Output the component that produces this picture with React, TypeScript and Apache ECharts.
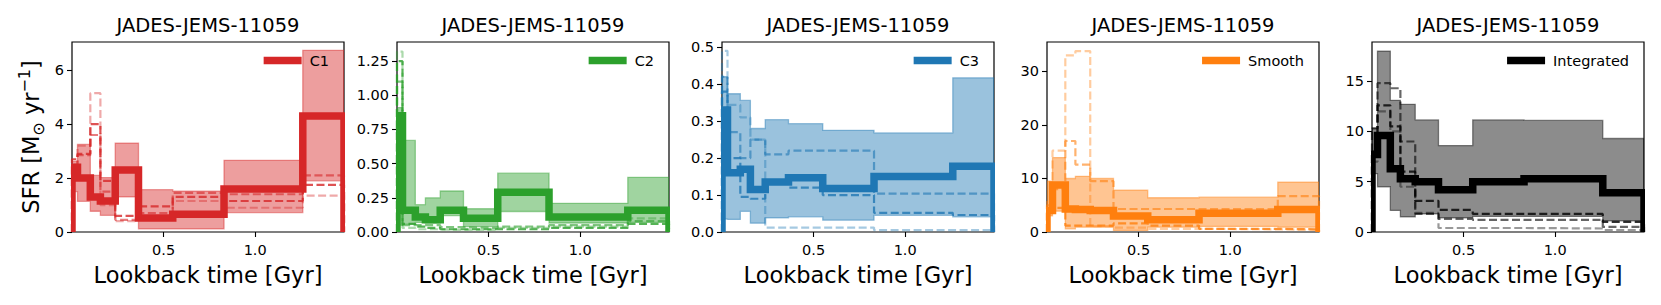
import React, { useEffect, useRef } from "react";
import * as echarts from "echarts";

// ---------- data ----------
const EDGES = [0, 0.03, 0.1, 0.155, 0.236, 0.363, 0.55, 0.83, 1.26, 1.485];
const X_MAX = 1.485;
const X_TICKS = [0.5, 1.0];
const TITLE = "JADES-JEMS-11059";
const X_NAME = "Lookback time [Gyr]";

const NAMES = ["C1", "C2", "C3", "Smooth", "Integrated"];
const COLORS = ["#d62728", "#2ca02c", "#1f77b4", "#ff7f0e", "#000000"];
const Y_MAX = [7.05, 1.39, 0.514, 35.5, 18.9];
const Y_TICKS = [
  [0, 2, 4, 6],
  [0, 0.25, 0.5, 0.75, 1.0, 1.25],
  [0, 0.1, 0.2, 0.3, 0.4, 0.5],
  [0, 10, 20, 30],
  [0, 5, 10, 15],
];
const Y_DECIMALS = [0, 2, 1, 0, 0];

// C1
const C1_MED = [2.4, 2.0, 1.3, 1.15, 2.3, 0.52, 0.66, 1.6, 4.3];
const C1_LO = [1.5, 1.14, 0.77, 0.62, 1.3, 0.12, 0.12, 0.72, 1.9];
const C1_HI = [2.62, 3.25, 2.1, 2.02, 3.3, 1.57, 1.52, 2.66, 6.74];
const C1_DA = [2.7, 2.9, 4.0, 1.9, 0.6, 0.95, 1.3, 1.15, 1.75];
const C1_DB = [2.3, 2.85, 3.6, 1.5, 0.45, 0.7, 1.45, 1.4, 2.1];
const C1_DC = [2.5, 3.2, 5.15, 1.0, 0.4, 0.5, 1.15, 0.9, 1.35];

// C2
const C2_MED = [0.85, 0.16, 0.11, 0.09, 0.16, 0.1, 0.29, 0.11, 0.16];
const C2_LO = [0.05, 0.06, 0.07, 0.066, 0.12, 0.04, 0.15, 0.066, 0.07];
const C2_HI = [0.91, 0.67, 0.2, 0.25, 0.3, 0.17, 0.43, 0.21, 0.4];
const C2_DA = [1.25, 0.06, 0.04, 0.03, 0.02, 0.02, 0.02, 0.03, 0.06];
const C2_DB = [1.1, 0.05, 0.05, 0.05, 0.035, 0.03, 0.04, 0.05, 0.08];
const C2_DC = [1.32, 0.03, 0.02, 0.02, 0.015, 0.015, 0.03, 0.04, 0.1];

// C3
const C3_MED = [0.33, 0.16, 0.17, 0.115, 0.135, 0.147, 0.118, 0.15, 0.178];
const C3_LO = [0.035, 0.034, 0.056, 0.024, 0.038, 0.041, 0.032, 0.045, 0.041];
const C3_HI = [0.42, 0.374, 0.356, 0.28, 0.304, 0.293, 0.275, 0.268, 0.417];
const C3_DA = [0.38, 0.2, 0.095, 0.09, 0.13, 0.12, 0.1, 0.052, 0.046];
const C3_DB = [0.42, 0.27, 0.2, 0.25, 0.21, 0.22, 0.22, 0.104, 0.104];
const C3_DC = [0.49, 0.344, 0.31, 0.25, 0.012, 0.012, 0.012, 0.005, 0.005];

// Smooth
const SM_MED = [4.0, 8.8, 4.3, 4.2, 4.0, 3.0, 2.3, 3.5, 4.2];
const SM_LO = [3.0, 3.9, 0.6, 0.9, 0.9, 0.3, 0.9, 1.05, 0.9];
const SM_HI = [9.5, 13.9, 10.0, 10.4, 10.0, 7.8, 6.4, 6.5, 9.3];
const SM_DA = [3.5, 4.5, 1.2, 1.2, 1.2, 1.6, 1.2, 0.6, 0.5];
const SM_DB = [5.0, 8.0, 17.0, 12.6, 9.5, 4.3, 4.3, 4.3, 6.7];
const SM_DC = [6.0, 15.2, 33.0, 33.8, 1.1, 0.8, 0.6, 0.5, 0.4];

// Integrated
const IN_MED = [7.7, 9.6, 6.3, 5.3, 5.0, 4.2, 5.0, 5.3, 3.9];
const IN_LO = [5.8, 4.5, 2.15, 1.5, 1.8, 1.4, 1.55, 1.55, 1.1];
const IN_HI = [10.3, 18.0, 13.1, 12.7, 11.15, 8.6, 11.15, 11.1, 9.3];
const IN_DA = [8.0, 12.6, 10.5, 6.0, 3.1, 2.2, 1.8, 1.8, 1.0];
const IN_DB = [10.3, 14.8, 14.3, 9.0, 1.8, 1.3, 1.2, 1.2, 0.5];
const IN_DC = [7.0, 12.0, 10.0, 4.5, 1.9, 0.4, 0.4, 0.35, 0.2];

const PANELS = [
  { med: C1_MED, lo: C1_LO, hi: C1_HI, dashed: [C1_DA, C1_DB, C1_DC] },
  { med: C2_MED, lo: C2_LO, hi: C2_HI, dashed: [C2_DA, C2_DB, C2_DC] },
  { med: C3_MED, lo: C3_LO, hi: C3_HI, dashed: [C3_DA, C3_DB, C3_DC] },
  { med: SM_MED, lo: SM_LO, hi: SM_HI, dashed: [SM_DA, SM_DB, SM_DC] },
  { med: IN_MED, lo: IN_LO, hi: IN_HI, dashed: [IN_DA, IN_DB, IN_DC] },
];
const DASH_ALPHA = [0.8, 0.6, 0.4];

// ---------- layout ----------
const W = 1661;
const H = 305;
const GRID_LEFT0 = 72;
const GRID_STEP = 325;
const GRID_W = 272;
const GRID_TOP = 42;
const GRID_H = 190;
const FONT = "DejaVu Sans";

function rgba(hex: string, a: number) {
  const r = parseInt(hex.slice(1, 3), 16);
  const g = parseInt(hex.slice(3, 5), 16);
  const b = parseInt(hex.slice(5, 7), 16);
  return `rgba(${r},${g},${b},${a})`;
}

function stairs(vals: number[]) {
  const pts: number[][] = [[EDGES[0], 0]];
  vals.forEach((v, i) => {
    pts.push([EDGES[i], v]);
    pts.push([EDGES[i + 1], v]);
  });
  pts.push([EDGES[vals.length], 0]);
  return pts;
}

export default function App() {
  const ref = useRef<HTMLDivElement>(null);
  useEffect(() => {
    document.body.style.margin = "0";
    const chart = echarts.init(ref.current!, null, { renderer: "svg" });
    const grids: any[] = [];
    const xAxes: any[] = [];
    const yAxes: any[] = [];
    const series: any[] = [];
    const legends: any[] = [];
    const graphics: any[] = [];

    PANELS.forEach((p, k) => {
      const left = GRID_LEFT0 + k * GRID_STEP;
      const color = COLORS[k];
      grids.push({
        left,
        top: GRID_TOP,
        width: GRID_W,
        height: GRID_H,
        show: true,
        borderColor: "#000",
        borderWidth: 1.2,
        backgroundColor: "transparent",
      });
      xAxes.push({
        type: "value",
        gridIndex: k,
        min: 0,
        max: X_MAX,
        name: X_NAME,
        nameLocation: "middle",
        nameGap: 31,
        nameTextStyle: { fontFamily: FONT, fontSize: 22.5, color: "#000" },
        axisLine: { show: false },
        splitLine: { show: false },
        axisTick: { show: true, length: 5, lineStyle: { color: "#000", width: 1.1 }, customValues: X_TICKS },
        axisLabel: {
          customValues: X_TICKS,
          formatter: (v: number) => v.toFixed(1),
          fontFamily: FONT,
          fontSize: 14.5,
          color: "#000",
          margin: 10,
        },
      });
      const yt = Y_TICKS[k];
      const y: any = {
        type: "value",
        gridIndex: k,
        min: 0,
        max: Y_MAX[k],
        axisLine: { show: false },
        splitLine: { show: false },
        axisTick: { show: true, length: 5, lineStyle: { color: "#000", width: 1.1 }, customValues: yt },
        axisLabel: {
          customValues: yt,
          formatter: (v: number) => v.toFixed(Y_DECIMALS[k]),
          fontFamily: FONT,
          fontSize: 14.5,
          color: "#000",
          margin: 8,
        },
      };
      if (k === 0) {
        y.name = "{a|SFR [M}{sub|⊙}{a| yr}{sup|−1}{a|]}";
        y.nameLocation = "middle";
        y.nameRotate = 90;
        y.nameGap = 26;
        y.nameTextStyle = {
          fontFamily: FONT,
          color: "#000",
          rich: {
            a: { fontFamily: FONT, fontSize: 22.5, color: "#000", lineHeight: 30 },
            sub: { fontFamily: FONT, fontSize: 16, color: "#000", verticalAlign: "bottom", lineHeight: 30 },
            sup: { fontFamily: FONT, fontSize: 16, color: "#000", verticalAlign: "top", lineHeight: 30 },
          },
        };
      }
      yAxes.push(y);

      // band
      const lo = p.lo;
      const hi = p.hi;
      series.push({
        type: "custom",
        name: NAMES[k] + " band",
        xAxisIndex: k,
        yAxisIndex: k,
        clip: true,
        silent: true,
        data: [[0, 0]],
        z: 1,
        renderItem: (_params: any, api: any) => {
          const pts: number[][] = [];
          for (let i = 0; i < hi.length; i++) {
            pts.push(api.coord([EDGES[i], hi[i]]));
            pts.push(api.coord([EDGES[i + 1], hi[i]]));
          }
          for (let i = lo.length - 1; i >= 0; i--) {
            pts.push(api.coord([EDGES[i + 1], lo[i]]));
            pts.push(api.coord([EDGES[i], lo[i]]));
          }
          return {
            type: "polygon",
            shape: { points: pts },
            style: { fill: rgba(color, 0.45), stroke: rgba(color, 0.45), lineWidth: 1.3 },
          };
        },
      });
      // dashed
      p.dashed.forEach((d, j) => {
        series.push({
          type: "line",
          name: NAMES[k] + " d" + j,
          xAxisIndex: k,
          yAxisIndex: k,
          data: stairs(d),
          showSymbol: false,
          symbol: "none",
          silent: true,
          z: 2,
          lineStyle: { color, width: 2.2, type: [8, 3.5], opacity: DASH_ALPHA[j] },
        });
      });
      // median (custom polyline so the clip follows the frame tightly)
      const med = stairs(p.med);
      series.push({
        type: "custom",
        name: NAMES[k],
        xAxisIndex: k,
        yAxisIndex: k,
        clip: true,
        silent: true,
        data: [[0, 0]],
        z: 3,
        itemStyle: { color },
        lineStyle: { width: 0.1 },
        renderItem: (_params: any, api: any) => ({
          type: "polyline",
          shape: { points: med.map((pt) => api.coord(pt)) },
          style: { stroke: color, fill: "none", lineWidth: 7.5, lineJoin: "miter", lineCap: "butt" },
        }),
      });
      legends.push({
        data: [{ name: NAMES[k], icon: "rect", itemStyle: { color } }],
        right: W - (left + GRID_W) + 15,
        top: 53,
        padding: 0,
        itemWidth: 38,
        itemHeight: 7.5,
        selectedMode: false,
        textStyle: { fontFamily: FONT, fontSize: 14.5, color: "#000", padding: [0, 0, 0, 3] },
      });
      graphics.push({
        type: "text",
        x: left + GRID_W / 2,
        y: 25,
        style: {
          text: TITLE,
          textAlign: "center",
          textVerticalAlign: "middle",
          fontFamily: FONT,
          fontSize: 19.5,
          fill: "#000",
        },
      });
    });

    chart.setOption({
      animation: false,
      backgroundColor: "#fff",
      grid: grids,
      xAxis: xAxes,
      yAxis: yAxes,
      legend: legends,
      series,
      graphic: graphics,
    });
    return () => chart.dispose();
  }, []);
  return <div ref={ref} style={{ width: W, height: H }} />;
}
